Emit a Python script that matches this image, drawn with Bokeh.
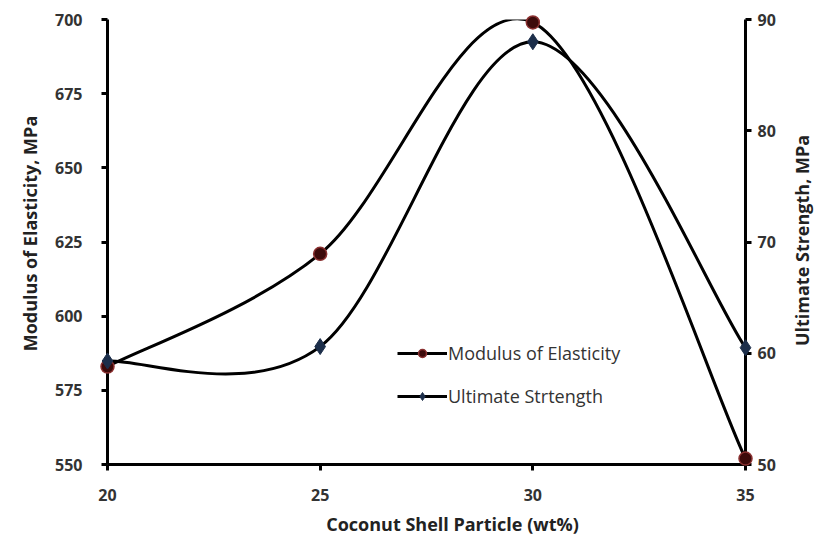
import math
from bokeh.plotting import figure
from bokeh.models import Range1d, LinearAxis, FixedTicker, Legend, LegendItem, ColumnDataSource, Label
from bokeh.embed import file_html
from bokeh.resources import INLINE

# ---- data ----
particle = [20, 25, 30, 35]
modulus = [583, 621, 699, 552]
strength = [59.3, 60.6, 88.0, 60.5]
x_ticks = [20, 25, 30, 35]
left_ticks = [550, 575, 600, 625, 650, 675, 700]
right_ticks = [50, 60, 70, 80, 90]

FONT = "Open Sans"
TXT = "#333333"


def smooth_segments(xs, ys):
    """Excel-style smoothed line: cubic Bezier segments (Catmull-Rom control points)."""
    n = len(xs)
    seg = dict(x0=[], y0=[], x1=[], y1=[], cx0=[], cy0=[], cx1=[], cy1=[])
    for i in range(n - 1):
        i0 = max(i - 1, 0)
        i3 = min(i + 2, n - 1)
        seg["x0"].append(xs[i]); seg["y0"].append(ys[i])
        seg["x1"].append(xs[i + 1]); seg["y1"].append(ys[i + 1])
        seg["cx0"].append(xs[i] + (xs[i + 1] - xs[i0]) / 6.0)
        seg["cy0"].append(ys[i] + (ys[i + 1] - ys[i0]) / 6.0)
        seg["cx1"].append(xs[i + 1] - (xs[i3] - xs[i]) / 6.0)
        seg["cy1"].append(ys[i + 1] - (ys[i3] - ys[i]) / 6.0)
    return ColumnDataSource(seg)


p = figure(width=816, height=549, output_backend="svg", toolbar_location=None,
           x_range=Range1d(20, 35), y_range=Range1d(550, 700),
           min_border_left=107, min_border_right=71, min_border_top=19, min_border_bottom=85)
p.extra_y_ranges = {"y2": Range1d(50, 90)}
p.xgrid.visible = False
p.ygrid.visible = False
p.outline_line_color = None
p.background_fill_color = "white"

# curves
mod_src = smooth_segments(particle, modulus)
str_src = smooth_segments(particle, strength)
p.bezier(x0="x0", y0="y0", x1="x1", y1="y1", cx0="cx0", cy0="cy0", cx1="cx1", cy1="cy1",
         source=mod_src, line_color="black", line_width=3)
p.bezier(x0="x0", y0="y0", x1="x1", y1="y1", cx0="cx0", cy0="cy0", cx1="cx1", cy1="cy1",
         source=str_src, line_color="black", line_width=3, y_range_name="y2")

mod_pts = p.scatter(particle, modulus, marker="circle", size=13,
                    fill_color="#3d0b0b", line_color="#8a3030", line_width=1.5, level="overlay")
str_pts = p.scatter(particle, strength, marker="diamond", size=16,
                    fill_color="#1c2e4a", line_color="#1c2e4a", line_width=1, y_range_name="y2",
                    level="overlay")

# legend proxies (single-point lines: draw nothing on the plot, only the legend stroke)
leg_line1 = p.line(x=particle[:1], y=modulus[:1], line_color="black", line_width=3)
leg_line2 = p.line(x=particle[:1], y=strength[:1], line_color="black", line_width=3,
                   y_range_name="y2")
legend = Legend(items=[
    LegendItem(label="Modulus of Elasticity", renderers=[leg_line1, mod_pts]),
    LegendItem(label="Ultimate Strtength", renderers=[leg_line2, str_pts]),
], location=(290, 56), border_line_color=None, background_fill_alpha=0,
    padding=0, margin=0, spacing=19, glyph_width=50, glyph_height=20, label_height=20,
    label_standoff=1, label_text_font=FONT, label_text_font_size="18px", label_text_color=TXT)
p.add_layout(legend, "center")

# axes
def style_axis(ax, ticks, label):
    ax.ticker = FixedTicker(ticks=ticks)
    ax.axis_label = label
    ax.axis_line_width = 3
    ax.axis_line_color = "black"
    ax.major_tick_line_width = 3
    ax.major_tick_line_color = "black"
    ax.major_tick_out = 6
    ax.major_tick_in = 0
    ax.minor_tick_out = 0
    ax.minor_tick_in = 0
    ax.major_label_text_font = FONT
    ax.major_label_text_font_style = "bold"
    ax.major_label_text_font_size = "16px"
    ax.major_label_text_color = TXT
    ax.axis_label_text_font = FONT
    ax.axis_label_text_font_style = "bold"
    ax.axis_label_text_font_size = "18px"
    ax.axis_label_text_color = "#222222"

style_axis(p.xaxis[0], x_ticks, None)
p.xaxis[0].major_label_standoff = 18
style_axis(p.yaxis[0], left_ticks, None)
p.yaxis[0].major_label_standoff = 19

raxis = LinearAxis(y_range_name="y2")
style_axis(raxis, right_ticks, None)
raxis.major_label_standoff = 6
p.add_layout(raxis, "right")

title_style = dict(x_units="canvas", y_units="canvas", text_align="center", text_baseline="middle",
                   text_font=FONT, text_font_style="bold", text_font_size="18px",
                   text_color="#222222")
p.add_layout(Label(x=452, y=523, text="Coconut Shell Particle (wt%)", **title_style), "below")
p.add_layout(Label(x=29, y=233, angle=math.pi / 2, text="Modulus of Elasticity, MPa",
                   **title_style), "left")
p.add_layout(Label(x=801, y=240, angle=math.pi / 2, text="Ultimate Strength, MPa", **title_style),
             "right")

open("out.html", "w").write(file_html(p, INLINE))
